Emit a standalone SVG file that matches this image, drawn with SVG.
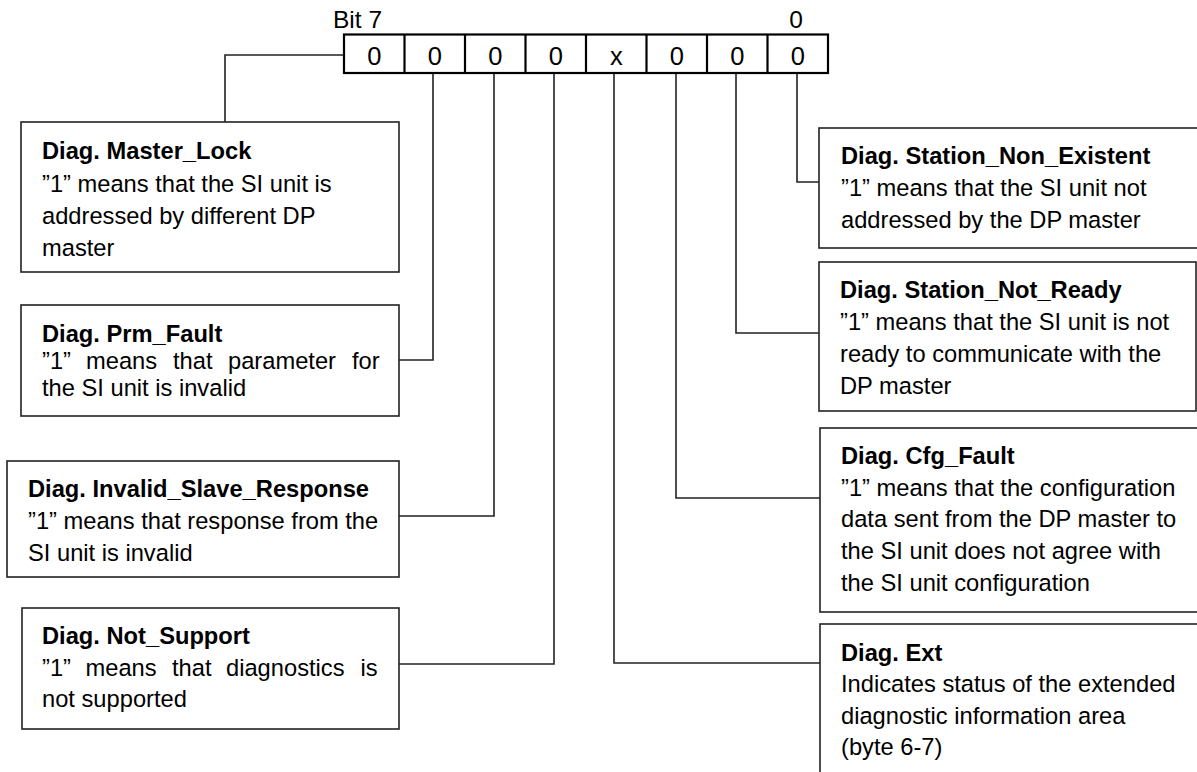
<svg xmlns="http://www.w3.org/2000/svg" width="1197" height="772" viewBox="0 0 1197 772">
<style>
text{font-family:"Liberation Sans",Arial,sans-serif;font-size:23.7px;fill:#000}
.t{font-weight:bold}
.box{fill:#fff;stroke:#222;stroke-width:1.6}
.cell{fill:#fff;stroke:#000;stroke-width:2.2}
.con{fill:none;stroke:#222;stroke-width:1.6}
.d{text-anchor:middle;font-size:25.5px}
</style>
<rect width="1197" height="772" fill="#fff"/>
<g id="connectors">
<polyline class="con" points="344,55 225,55 225,122"/>
<polyline class="con" points="433,73 433,360 399,360"/>
<polyline class="con" points="494,73 494,516 399,516"/>
<polyline class="con" points="554,73 554,664 399,664"/>
<polyline class="con" points="614,73 614,663 820,663"/>
<polyline class="con" points="676,73 676,498 820,498"/>
<polyline class="con" points="736,73 736,333 819,333"/>
<polyline class="con" points="797,73 797,182 819,182"/>
</g>
<g id="register">
<text x="333" y="28" style="font-size:24.5px">Bit 7</text>
<text x="796" y="28" class="d" style="font-size:24.5px">0</text>
<rect class="cell" x="344" y="34.5" width="484" height="38.5"/>
<path class="cell" d="M404.5,34.5V73M465,34.5V73M525.5,34.5V73M586,34.5V73M646.5,34.5V73M707,34.5V73M767.5,34.5V73"/>
<text class="d" x="374.25" y="65">0</text>
<text class="d" x="434.75" y="65">0</text>
<text class="d" x="495.25" y="65">0</text>
<text class="d" x="555.75" y="65">0</text>
<text class="d" x="616.25" y="65">x</text>
<text class="d" x="676.75" y="65">0</text>
<text class="d" x="737.25" y="65">0</text>
<text class="d" x="797.75" y="65">0</text>
</g>
<g id="master_lock">
<rect class="box" x="21" y="122" width="378" height="150"/>
<text class="t" x="42" y="159">Diag. Master_Lock</text>
<text x="42" y="192">”1” means that the SI unit is</text>
<text x="42" y="224">addressed by different DP</text>
<text x="42" y="256">master</text>
</g>
<g id="prm_fault">
<rect class="box" x="21" y="305" width="378" height="111"/>
<text class="t" x="42" y="342">Diag. Prm_Fault</text>
<text y="369"><tspan x="42">”1”</tspan><tspan x="86">means</tspan><tspan x="173">that</tspan><tspan x="228">parameter</tspan><tspan x="352">for</tspan></text>
<text x="42" y="396">the SI unit is invalid</text>
</g>
<g id="invalid_slave_response">
<rect class="box" x="7" y="461" width="392" height="116"/>
<text class="t" x="28" y="497">Diag. Invalid_Slave_Response</text>
<text x="28" y="529">”1” means that response from the</text>
<text x="28" y="561">SI unit is invalid</text>
</g>
<g id="not_support">
<rect class="box" x="22" y="608" width="377" height="121"/>
<text class="t" x="42" y="644">Diag. Not_Support</text>
<text y="676"><tspan x="42">”1”</tspan><tspan x="85.5">means</tspan><tspan x="172">that</tspan><tspan x="226">diagnostics</tspan><tspan x="360.5">is</tspan></text>
<text x="42" y="707">not supported</text>
</g>
<g id="station_non_existent">
<rect class="box" x="819" y="128" width="390" height="120"/>
<text class="t" x="841" y="164">Diag. Station_Non_Existent</text>
<text x="841" y="196">”1” means that the SI unit not</text>
<text x="841" y="228">addressed by the DP master</text>
</g>
<g id="station_not_ready">
<rect class="box" x="819" y="262" width="377" height="149"/>
<text class="t" x="840" y="298">Diag. Station_Not_Ready</text>
<text x="840" y="330">”1” means that the SI unit is not</text>
<text x="840" y="362">ready to communicate with the</text>
<text x="840" y="394">DP master</text>
</g>
<g id="cfg_fault">
<rect class="box" x="820" y="428" width="390" height="184"/>
<text class="t" x="841" y="464">Diag. Cfg_Fault</text>
<text x="841" y="496">”1” means that the configuration</text>
<text x="841" y="527">data sent from the DP master to</text>
<text x="841" y="559">the SI unit does not agree with</text>
<text x="841" y="591">the SI unit configuration</text>
</g>
<g id="ext">
<rect class="box" x="820" y="624" width="390" height="200"/>
<text class="t" x="841" y="661">Diag. Ext</text>
<text x="841" y="692">Indicates status of the extended</text>
<text x="841" y="724">diagnostic information area</text>
<text x="841" y="755">(byte 6-7)</text>
</g>
</svg>
